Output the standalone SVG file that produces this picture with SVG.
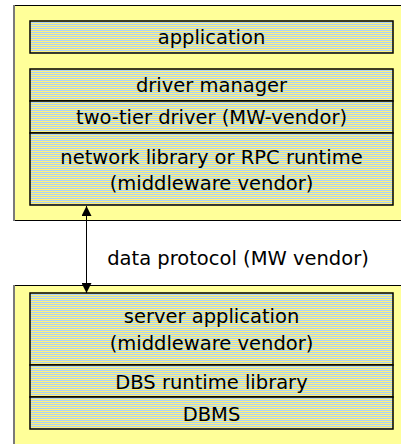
<svg xmlns="http://www.w3.org/2000/svg" width="401" height="444" viewBox="0 0 401 444">
  <defs>
    <!-- fine horizontal blue/yellow hatching used inside the layer boxes -->
    <pattern id="stripes" x="0" y="0" width="4" height="2" patternUnits="userSpaceOnUse">
      <rect x="0" y="0" width="4" height="2" fill="#FFF07A"/>
      <rect x="0" y="0" width="4" height="1" fill="#AAD2F7"/>
    </pattern>
    <marker id="head" viewBox="0 0 10 10" refX="10" refY="5" markerWidth="10" markerHeight="10" markerUnits="userSpaceOnUse" orient="auto-start-reverse">
      <path d="M0,0 L10,5 L0,10 Z" fill="#000"/>
    </marker>
    <style>
      .tier { fill: #FFFF99; stroke: #000; stroke-width: 1; }
      .edge { stroke: #7A7A7A; stroke-width: 2; }
      .layer { fill: url(#stripes); stroke: #000; stroke-width: 1.5; }
      text { font-family: "DejaVu Sans", Verdana, sans-serif; font-size: 19.5px; fill: #000; text-anchor: middle; }
      .conn { stroke: #000; stroke-width: 1; fill: none; }
    </style>
  </defs>

  <!-- client tier -->
  <g id="client">
    <rect class="tier" x="14.5" y="5.5" width="400" height="215"/>
    <line class="edge" x1="14" y1="5" x2="14" y2="221"/>
  </g>
  <g id="application">
    <rect class="layer" x="30" y="21" width="363" height="32"/>
    <text x="211.5" y="44">application</text>
  </g>
  <g id="driver-manager">
    <rect class="layer" x="30" y="69" width="363" height="32"/>
    <text x="211.5" y="92">driver manager</text>
  </g>
  <g id="two-tier-driver">
    <rect class="layer" x="30" y="101" width="363" height="32"/>
    <text x="211.5" y="124">two-tier driver (MW-vendor)</text>
  </g>
  <g id="network-library">
    <rect class="layer" x="30" y="133" width="363" height="72"/>
    <text x="211.5" y="164">network library or RPC runtime</text>
    <text x="211.5" y="190">(middleware vendor)</text>
  </g>

  <!-- server tier -->
  <g id="server">
    <rect class="tier" x="14.5" y="285.5" width="400" height="170"/>
    <line class="edge" x1="14" y1="285" x2="14" y2="444"/>
  </g>
  <g id="server-application">
    <rect class="layer" x="30" y="293" width="363" height="72"/>
    <text x="211.5" y="323">server application</text>
    <text x="211.5" y="350">(middleware vendor)</text>
  </g>
  <g id="dbs-runtime">
    <rect class="layer" x="30" y="365" width="363" height="32"/>
    <text x="211.5" y="389">DBS runtime library</text>
  </g>
  <g id="dbms">
    <rect class="layer" x="30" y="397" width="363" height="32"/>
    <text x="211.5" y="421">DBMS</text>
  </g>

  <!-- connectors -->
  <g id="connectors">
    <line class="conn" x1="86.5" y1="206" x2="86.5" y2="293" marker-start="url(#head)" marker-end="url(#head)"/>
    <text x="238" y="265">data protocol (MW vendor)</text>
  </g>
</svg>
